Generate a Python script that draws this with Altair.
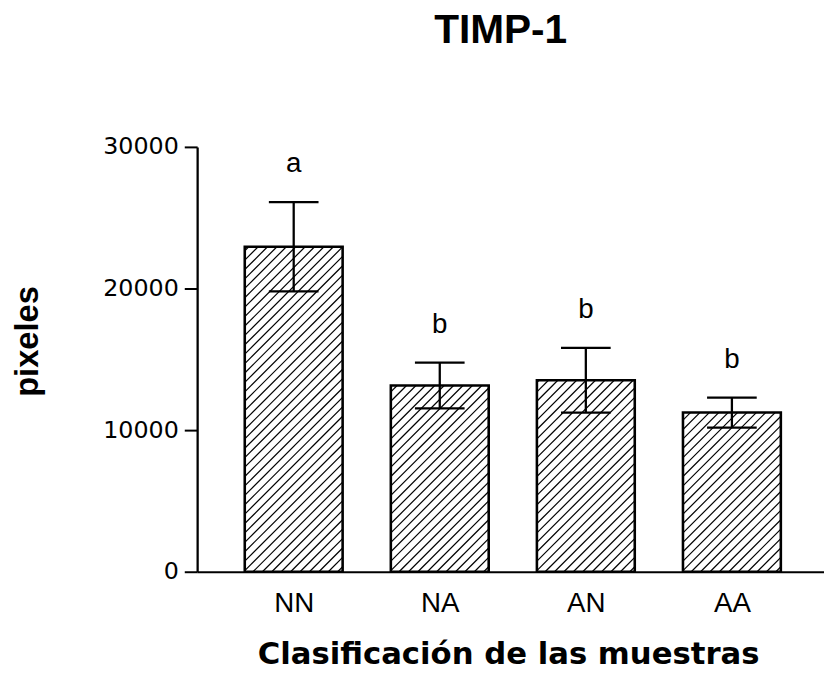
import json
import altair as alt
import numpy as np
import pandas as pd

# ---- data ----
groups = ["NN", "NA", "AN", "AA"]
means = [22950, 13150, 13520, 11240]
sems = [3150, 1620, 2290, 1060]
letters = ["a", "b", "b", "b"]
y_ticks = [0, 10000, 20000, 30000]

# ---- layout / style constants ----
PLOT_W, PLOT_H = 633, 429
PX_PER_X = 147.5
X_MIN = 0.339
X_MAX = X_MIN + PLOT_W / PX_PER_X
Y_MAX = 30000
BAR_HALF = 0.335
CAP_HALF = 0.17
HATCH_STEP = 9.5  # px, horizontal spacing of hatch lines

pos = list(range(1, len(groups) + 1))
df = pd.DataFrame({"pos": pos, "group": groups, "mean": means, "sem": sems, "letter": letters})

# hatch lines (45 degrees in screen space), clipped to each bar
sy = PLOT_H / Y_MAX
rows = []
for p, m in zip(pos, means):
    W = 2 * BAR_HALF * PX_PER_X
    H = m * sy
    for c in np.arange(-W + 5, H, HATCH_STEP):
        X0 = max(0.0, -c)
        X1 = min(W, H - c)
        if X1 <= X0:
            continue
        rows.append({
            "xa": p - BAR_HALF + X0 / PX_PER_X, "ya": (X0 + c) / sy,
            "xb": p - BAR_HALF + X1 / PX_PER_X, "yb": (X1 + c) / sy,
        })
hatch = pd.DataFrame(rows)

x_scale = alt.Scale(domain=[X_MIN, X_MAX], nice=False, zero=False)
y_scale = alt.Scale(domain=[0, Y_MAX], nice=False, zero=True)

label_expr = json.dumps(groups) + "[datum.value - 1]"
x_axis = alt.Axis(
    values=pos, labelExpr=label_expr, ticks=False, tickSize=0, grid=False,
    domainColor="black", domainWidth=2,
    labelFont="Liberation Sans", labelFontSize=28, labelColor="black",
    labelBaseline="alphabetic", labelPadding=40, labelFlush=False,
    title="Clasificación de las muestras", titleFont="DejaVu Sans", titleFontSize=31,
    titleFontWeight="bold", titleColor="black", titleX=314, titleY=93,
    titleBaseline="alphabetic", titleAlign="center",
)
y_axis = alt.Axis(
    values=y_ticks, format="d", tickSize=13, tickWidth=2, tickColor="black", grid=False,
    domainColor="black", domainWidth=2.3,
    labelFont="DejaVu Sans", labelFontSize=24, labelColor="black", labelPadding=6,
    title="pixeles", titleFont="Liberation Sans", titleFontSize=33, titleFontWeight="bold",
    titleColor="black", titleAngle=270, titleX=-171, titleY=196,
    titleBaseline="middle", titleAlign="center",
)

hatch_layer = alt.Chart(hatch).mark_rule(color="black", strokeWidth=1.2).encode(
    x=alt.X("xa:Q", scale=x_scale, axis=x_axis),
    x2="xb:Q",
    y=alt.Y("ya:Q", scale=y_scale, axis=y_axis),
    y2="yb:Q",
)

base = alt.Chart(df).transform_calculate(
    x0=f"datum.pos - {BAR_HALF}", x1=f"datum.pos + {BAR_HALF}",
    c0=f"datum.pos - {CAP_HALF}", c1=f"datum.pos + {CAP_HALF}",
    lo="datum.mean - datum.sem", hi="datum.mean + datum.sem",
)

outline = base.mark_rect(fillOpacity=0, stroke="black", strokeWidth=2.6).encode(
    x=alt.X("x0:Q", scale=x_scale, axis=x_axis), x2="x1:Q",
    y=alt.Y("mean:Q", scale=y_scale, axis=y_axis), y2=alt.datum(0),
)

err = base.mark_rule(color="black", strokeWidth=2.3).encode(
    x=alt.X("pos:Q", scale=x_scale, axis=x_axis),
    y=alt.Y("lo:Q", scale=y_scale, axis=y_axis), y2="hi:Q",
)
cap_hi = base.mark_rule(color="black", strokeWidth=2.3).encode(
    x=alt.X("c0:Q", scale=x_scale, axis=x_axis), x2="c1:Q",
    y=alt.Y("hi:Q", scale=y_scale, axis=y_axis),
)
cap_lo = base.mark_rule(color="black", strokeWidth=2.3).encode(
    x=alt.X("c0:Q", scale=x_scale, axis=x_axis), x2="c1:Q",
    y=alt.Y("lo:Q", scale=y_scale, axis=y_axis),
)
text = base.mark_text(
    font="Liberation Sans", fontSize=28, color="black", baseline="alphabetic", dy=-30
).encode(
    x=alt.X("pos:Q", scale=x_scale, axis=x_axis),
    y=alt.Y("hi:Q", scale=y_scale, axis=y_axis),
    text="letter:N",
)

chart = alt.layer(hatch_layer, outline, err, cap_hi, cap_lo, text).properties(
    width=PLOT_W, height=PLOT_H,
    title=alt.TitleParams(
        "TIMP-1", font="Liberation Sans", fontSize=41, fontWeight="bold", color="black",
        anchor="middle", dx=-10, offset=43, baseline="bottom",
    ),
    autosize=alt.AutoSizeParams(type="none"),
    padding={"left": 191, "top": 137, "right": 0, "bottom": 100},
).configure(background="white").configure_view(stroke=None)

chart.save("out.html", embed_options={"renderer": "svg", "actions": False})
